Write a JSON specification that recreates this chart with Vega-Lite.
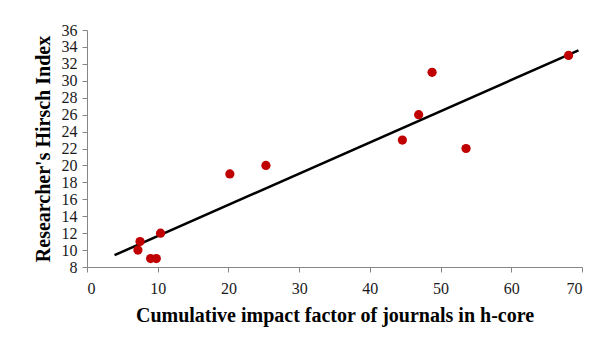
{
  "$schema": "https://vega.github.io/schema/vega-lite/v6.json",
  "width": 495,
  "height": 237,
  "autosize": "none",
  "padding": {"left": 87, "top": 30, "right": 23, "bottom": 73},
  "background": "white",
  "config": {
    "view": {"stroke": null},
    "font": "Liberation Serif",
    "axis": {
      "grid": false,
      "domainColor": "#868686",
      "tickColor": "#868686",
      "tickSize": 5,
      "labelFont": "Liberation Serif",
      "labelFontSize": 16,
      "labelColor": "#1a1a1a",
      "labelOverlap": false,
      "titleFont": "Liberation Serif",
      "titleFontSize": 20,
      "titleFontWeight": "bold",
      "titleColor": "#000000"
    }
  },
  "datasets": {
    "points": [
      {"impact": 7.2, "h": 10},
      {"impact": 7.5, "h": 11},
      {"impact": 9.0, "h": 9},
      {"impact": 9.8, "h": 9},
      {"impact": 10.4, "h": 12},
      {"impact": 20.2, "h": 19},
      {"impact": 25.3, "h": 20},
      {"impact": 44.6, "h": 23},
      {"impact": 46.9, "h": 26},
      {"impact": 48.8, "h": 31},
      {"impact": 53.6, "h": 22},
      {"impact": 68.1, "h": 33}
    ],
    "trend": [
      {"impact": 3.9, "h": 9.4},
      {"impact": 69.5, "h": 33.6}
    ]
  },
  "encoding": {
    "x": {
      "field": "impact",
      "type": "quantitative",
      "scale": {"domain": [0, 70], "nice": false, "zero": false},
      "axis": {
        "values": [0, 10, 20, 30, 40, 50, 60, 70],
        "title": "Cumulative  impact factor of journals in h-core",
        "labelOverlap": false,
        "labelPadding": 8,
        "titlePadding": 9
      }
    },
    "y": {
      "field": "h",
      "type": "quantitative",
      "scale": {"domain": [8, 36], "nice": false, "zero": false},
      "axis": {
        "values": [8, 10, 12, 14, 16, 18, 20, 22, 24, 26, 28, 30, 32, 34, 36],
        "title": "Researcher's Hirsch Index",
        "labelOverlap": false,
        "labelBound": false,
        "labelPadding": 5,
        "titlePadding": 8
      }
    }
  },
  "layer": [
    {
      "data": {"name": "trend"},
      "mark": {"type": "line", "color": "#000000", "strokeWidth": 2.5}
    },
    {
      "data": {"name": "points"},
      "mark": {"type": "circle", "color": "#C00000", "opacity": 1, "size": 85}
    }
  ]
}
